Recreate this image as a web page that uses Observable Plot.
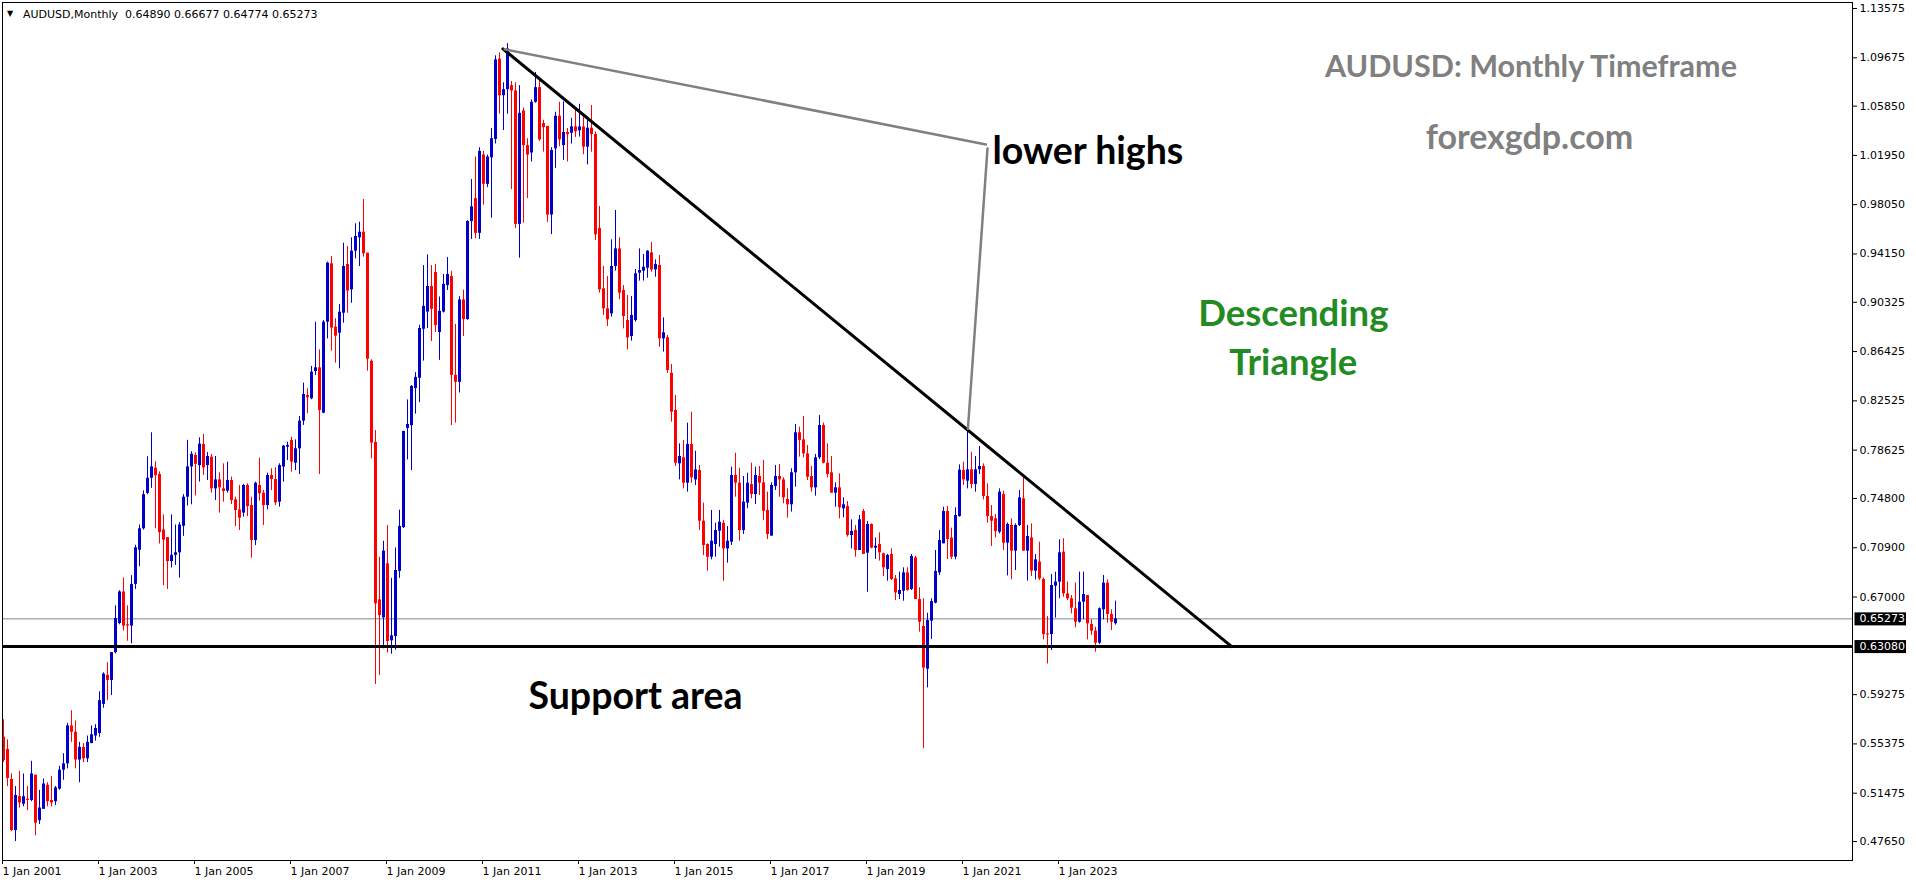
<!DOCTYPE html>
<html>
<head>
<meta charset="utf-8">
<script src="https://cdn.jsdelivr.net/npm/d3@7"></script>
<script src="https://cdn.jsdelivr.net/npm/@observablehq/plot@0.6"></script>
<style>
html,body{margin:0;padding:0;background:#fff;overflow:hidden}
#chart svg{display:block}
</style>
</head>
<body>
<div id="chart"></div>
<script>
// ---------- data (monthly AUDUSD candles, first candle = Jan 2001) ----------
const startYear = 2001;
const opens = [
 .5591,.5494,.5256,.4852,.5120,.5060,.5100,.5090,.5290,.4930,.5020,.5210,
 .5090,.5080,.5180,.5330,.5380,.5680,.5630,.5410,.5510,.5420,.5540,.5600,
 .5620,.5850,.6080,.6040,.6260,.6490,.6740,.6480,.6470,.6800,.7070,.7240,
 .7520,.7640,.7720,.7670,.7230,.7170,.6980,.7030,.7050,.7260,.7490,.7730,
 .7820,.7740,.7907,.7741,.7807,.7556,.7627,.7556,.7538,.7622,.7469,.7390,
 .7364,.7583,.7424,.7147,.7583,.7522,.7424,.7662,.7630,.7451,.7728,.7886,
 .7939,.7759,.7873,.8092,.8295,.8269,.8485,.8514,.8155,.8875,.9337,.8836,
 .8788,.8946,.9332,.9131,.9437,.9543,.9587,.9421,.8566,.7923,.6678,.6535,
 .6963,.6354,.6387,.6903,.7249,.8034,.8056,.8350,.8431,.8819,.8955,.9158,
 .9268,.8793,.8955,.9165,.9236,.8454,.8399,.9051,.8896,.9672,.9853,.9578,
 1.0198,.9966,1.0176,1.0321,1.0957,1.0667,1.0715,1.0747,1.0705,.9649,1.0547,1.0272,
 1.0214,1.0615,1.0731,1.0447,1.0424,.9723,1.0247,1.0505,1.0273,1.0376,1.0370,1.0421,
 1.0390,1.0420,1.0260,1.0410,1.0360,.9616,.9139,.8981,.8941,.9316,.9455,.9126,
 .8888,.8762,.8888,.9263,.9279,.9302,.9424,.9289,.9324,.8743,.8751,.8471,
 .8176,.7754,.7802,.7601,.7907,.7627,.7701,.7300,.7116,.7015,.7116,.7221,
 .7284,.7081,.7134,.7662,.7601,.7226,.7443,.7590,.7511,.7654,.7604,.7385,
 .7182,.7575,.7654,.7627,.7472,.7430,.7683,.8000,.7944,.7833,.7654,.7564,
 .7802,.8057,.7759,.7683,.7522,.7564,.7398,.7416,.7187,.7227,.7068,.7377,
 .7047,.7274,.7087,.7116,.7042,.6918,.7037,.6844,.6720,.6746,.6891,.6760,
 .7010,.6680,.6467,.6129,.6509,.6651,.6891,.7121,.7377,.7166,.7015,.7337,
 .7701,.7617,.7707,.7591,.7707,.7733,.7496,.7337,.7319,.7213,.7511,.7126,
 .7266,.7063,.7266,.7477,.7063,.7168,.6905,.6976,.6839,.6408,.6403,.6786,
 .6818,.7055,.6725,.6686,.6607,.6501,.6659,.6712,.6483,.6430,.6335,.6599,
 .6810,.6562,.64890
];
const highs = [
 .5728,.5570,.5300,.5200,.5320,.5300,.5200,.5400,.5290,.5170,.5260,.5230,
 .5280,.5200,.5360,.5460,.5700,.5800,.5720,.5550,.5540,.5600,.5680,.5690,
 .5950,.6100,.6180,.6260,.6630,.6750,.6850,.6630,.6870,.7110,.7270,.7540,
 .7810,.8000,.7770,.7690,.7350,.7170,.7350,.7270,.7290,.7510,.7940,.7850,
 .7840,.7960,.7986,.7843,.7828,.7812,.7683,.7754,.7767,.7649,.7490,.7583,
 .7590,.7596,.7490,.7609,.7799,.7543,.7680,.7715,.7723,.7754,.7899,.7925,
 .7965,.7944,.8129,.8393,.8348,.8525,.8875,.8656,.8888,.9350,.9395,.8902,
 .9015,.9500,.9474,.9543,.9654,.9667,.9846,.9421,.8577,.8018,.7015,.7142,
 .7266,.6848,.7088,.7388,.8011,.8260,.8373,.8476,.8851,.9323,.9407,.9323,
 .9332,.9074,.9252,.9387,.9278,.8858,.9077,.9129,.9678,1.0004,1.0182,1.0256,
 1.0227,1.0198,1.0408,1.0983,1.1006,1.0770,1.1080,1.0780,1.0770,1.0747,1.0570,1.0327,
 1.0634,1.0851,1.0812,1.0473,1.0424,1.0256,1.0537,1.0615,1.0618,1.0408,1.0489,1.0563,
 1.0600,1.0500,1.0500,1.0590,1.0380,.9791,.9316,.9236,.9527,.9759,.9543,.9165,
 .9086,.9078,.9292,.9455,.9411,.9442,.9506,.9368,.9403,.8909,.8770,.8540,
 .8295,.7912,.7939,.8076,.8163,.7854,.7741,.7443,.7121,.7385,.7284,.7385,
 .7305,.7258,.7728,.7838,.7720,.7654,.7680,.7759,.7728,.7733,.7780,.7530,
 .7604,.7741,.7749,.7643,.7556,.7715,.8065,.8044,.8129,.7899,.7733,.7828,
 .8137,.8076,.7912,.7812,.7604,.7675,.7485,.7456,.7311,.7266,.7346,.7393,
 .7298,.7279,.7168,.7208,.7047,.7037,.7081,.6870,.6897,.6931,.6931,.7037,
 .7023,.6773,.6686,.6572,.6686,.7068,.7226,.7411,.7416,.7245,.7406,.7746,
 .7767,.8031,.7846,.7812,.7891,.7754,.7596,.7424,.7353,.7556,.7538,.7285,
 .7319,.7279,.7543,.7662,.7266,.7279,.7036,.7134,.6852,.6546,.6878,.6897,
 .7153,.7161,.6818,.6712,.6810,.6897,.6897,.6712,.6520,.6461,.6614,.6870,
 .6836,.6599,.66677
];
const lows = [
 .5390,.5200,.4844,.4765,.5030,.5040,.5010,.5080,.4810,.4900,.5020,.5040,
 .5040,.5050,.5170,.5250,.5340,.5550,.5340,.5230,.5390,.5390,.5540,.5560,
 .5590,.5820,.5880,.5920,.6250,.6480,.6430,.6350,.6330,.6760,.6940,.7230,
 .7510,.7560,.7240,.7120,.6790,.6760,.6930,.6950,.6850,.7180,.7420,.7430,
 .7500,.7610,.7662,.7622,.7522,.7464,.7364,.7451,.7522,.7432,.7258,.7226,
 .7332,.7337,.7007,.7108,.7459,.7266,.7390,.7543,.7424,.7411,.7609,.7780,
 .7688,.7701,.7670,.8058,.8150,.8261,.8453,.7670,.8150,.8743,.8646,.8551,
 .8506,.8867,.8946,.9025,.9376,.9316,.9390,.8487,.7794,.6008,.6079,.6290,
 .6257,.6248,.6280,.6848,.7243,.7785,.7701,.8147,.8238,.8567,.8825,.8722,
 .8793,.8573,.8948,.9126,.8057,.8076,.8315,.8761,.8890,.9530,.9536,.9530,
 .9801,.9940,.9698,1.0285,1.0521,1.0392,1.0521,.9924,.9617,.9381,.9659,.9853,
 1.0143,1.0608,1.0305,1.0221,.9665,.9568,1.0092,1.0263,1.0156,1.0143,1.0285,1.0337,
 1.0340,1.0200,1.0120,1.0220,.9521,.9105,.8928,.8841,.8915,.9279,.9052,.8822,
 .8656,.8725,.8875,.9200,.9200,.9223,.9271,.9231,.8677,.8638,.8471,.8084,
 .7733,.7627,.7556,.7530,.7601,.7582,.7226,.7028,.6904,.6994,.7015,.7094,
 .6825,.6968,.7108,.7490,.7142,.7195,.7398,.7477,.7432,.7503,.7306,.7155,
 .7182,.7543,.7490,.7438,.7324,.7372,.7569,.7807,.7801,.7622,.7530,.7498,
 .7788,.7754,.7643,.7522,.7411,.7319,.7327,.7174,.7081,.7015,.7068,.7037,
 .6738,.7081,.6997,.6984,.6862,.6825,.6831,.6672,.6680,.6667,.6746,.6752,
 .6680,.6422,.5499,.5981,.6364,.6646,.6870,.7121,.6997,.6997,.6994,.7332,
 .7583,.7556,.7556,.7530,.7670,.7469,.7285,.7100,.7168,.7200,.7068,.6867,
 .6836,.6910,.7258,.7063,.6826,.6862,.6836,.6831,.6361,.6171,.6277,.6533,
 .6686,.6699,.6672,.6567,.6456,.6493,.6520,.6361,.6396,.6264,.6324,.6520,
 .6493,.6435,.64774
];
const closes = [
 .5406,.5264,.4852,.5129,.5070,.5120,.5090,.5300,.4910,.5030,.5220,.5080,
 .5070,.5190,.5330,.5380,.5680,.5630,.5410,.5510,.5420,.5550,.5610,.5660,
 .5880,.6090,.6040,.6260,.6530,.6740,.6470,.6470,.6800,.7090,.7240,.7510,
 .7640,.7730,.7660,.7210,.7150,.6980,.7030,.7050,.7270,.7490,.7730,.7830,
 .7750,.7910,.7722,.7812,.7556,.7627,.7564,.7535,.7622,.7464,.7385,.7324,
 .7583,.7416,.7147,.7601,.7517,.7424,.7662,.7630,.7445,.7741,.7894,.7899,
 .7767,.7873,.8092,.8303,.8277,.8480,.8514,.8176,.8875,.9342,.8828,.8764,
 .8954,.9316,.9121,.9437,.9553,.9587,.9416,.8582,.7918,.6646,.6553,.7063,
 .6348,.6393,.6910,.7259,.8011,.8066,.8367,.8438,.8825,.9000,.9158,.8977,
 .8848,.8961,.9174,.9252,.8454,.8399,.9051,.8896,.9672,.9788,.9578,1.0227,
 .9966,1.0182,1.0327,1.0951,1.0667,1.0715,1.1038,1.0705,.9649,1.0528,1.0272,1.0198,
 1.0615,1.0731,1.0318,1.0415,.9723,1.0234,1.0505,1.0318,1.0376,1.0360,1.0421,1.0382,
 1.0420,1.0260,1.0410,1.0360,.9566,.9131,.8981,.8894,.9316,.9455,.9105,.8920,
 .8751,.8928,.9258,.9284,.9310,.9437,.9289,.9332,.8743,.8791,.8493,.8163,
 .7759,.7812,.7601,.7907,.7643,.7706,.7300,.7108,.7015,.7142,.7226,.7292,
 .7081,.7142,.7662,.7601,.7226,.7451,.7601,.7511,.7662,.7601,.7379,.7195,
 .7583,.7654,.7627,.7485,.7430,.7683,.8000,.7939,.7833,.7648,.7564,.7802,
 .8057,.7759,.7670,.7522,.7564,.7406,.7430,.7187,.7219,.7068,.7311,.7037,
 .7274,.7087,.7102,.7050,.6931,.7029,.6839,.6733,.6752,.6891,.6752,.7021,
 .6680,.6501,.6137,.6514,.6664,.6902,.7147,.7377,.7155,.7015,.7345,.7704,
 .7627,.7707,.7591,.7707,.7733,.7496,.7337,.7300,.7218,.7530,.7126,.7274,
 .7063,.7266,.7485,.7063,.7179,.6905,.6994,.6844,.6403,.6400,.6791,.6818,
 .7050,.6725,.6686,.6612,.6501,.6659,.6720,.6488,.6430,.6335,.6607,.6810,
 .6562,.6501,.65273
];

// axis ticks
const yTicks = [1.13575,1.09675,1.05850,1.01950,0.98050,0.94150,0.90325,0.86425,0.82525,
                0.78625,0.74800,0.70900,0.67000,0.59275,0.55375,0.51475,0.47650];
const xTickYears = [2001,2003,2005,2007,2009,2011,2013,2015,2017,2019,2021,2023];

// header / levels
const headerSymbol = "AUDUSD,Monthly";
const headerOHLC = [0.64890, 0.66677, 0.64774, 0.65273];
const currentPrice = 0.65273;
const supportLevel = 0.63080;
const priceTags = [currentPrice, supportLevel];

// drawn objects (month index from Jan 2001, price)
const trendLine = [{m: 124.85, p: 1.1038}, {m: 307.05, p: 0.6308}];
const lowerHighLine1 = [{m: 125.3, p: 1.1035}, {m: 245.6, p: 1.0282}];
const lowerHighLine2 = [{m: 246.0, p: 1.0250}, {m: 241.1, p: 0.8030}];

const titleTexts = [{label: "AUDUSD: Monthly Timeframe", m: 381.85, p: 1.0893}];
const siteTexts = [{label: "forexgdp.com", m: 381.5, p: 1.0335}];
const greenTexts = [
  {label: "Descending", m: 322.45, p: 0.8935},
  {label: "Triangle", m: 322.45, p: 0.8552}
];
const blackTexts = [
  {label: "lower highs", m: 271.1, p: 1.0218},
  {label: "Support area", m: 158.0, p: 0.5905}
];

// ---------- build ----------
const candles = opens.map((o, i) => ({m: i, o, h: highs[i], l: lows[i], c: closes[i]}));
const bull = "#0000CD", bear = "#FF0000";
const col = d => (d.c >= d.o ? bull : bear);
const monthOf = y => (y - startYear) * 12;
const annotFont = "Lato, 'Open Sans', sans-serif";
const fmt5 = d => d.toFixed(5);

const plot = Plot.plot({
  width: 1916,
  height: 884,
  marginLeft: 2,
  marginTop: 2,
  marginRight: 64,
  marginBottom: 24,
  style: {fontFamily: "'DejaVu Sans', sans-serif", fontSize: "11px", color: "black", background: "white", overflow: "visible"},
  x: {type: "linear", domain: [-0.25, 462.25]},
  y: {type: "linear", domain: [0.46149, 1.14050]},
  color: {type: "identity"},
  marks: [
    Plot.ruleY([currentPrice], {stroke: "#778899", strokeWidth: 1}),
    Plot.ruleX(candles, {x: "m", y1: "l", y2: "h", stroke: col, strokeWidth: 1}),
    Plot.ruleX(candles, {x: "m", y1: "o", y2: "c", stroke: col, strokeWidth: 3}),
    Plot.ruleY([supportLevel], {stroke: "black", strokeWidth: 3}),
    Plot.line(trendLine, {x: "m", y: "p", stroke: "black", strokeWidth: 3}),
    Plot.line(lowerHighLine1, {x: "m", y: "p", stroke: "#808080", strokeWidth: 2.5}),
    Plot.line(lowerHighLine2, {x: "m", y: "p", stroke: "#808080", strokeWidth: 2.5}),
    Plot.frame({stroke: "black"}),
    Plot.axisY({anchor: "right", ticks: yTicks, tickFormat: fmt5, tickSize: 4, tickPadding: 3, label: null}),
    Plot.axisX({anchor: "bottom", ticks: xTickYears.map(monthOf), tickFormat: m => "1 Jan " + (startYear + m / 12),
                tickSize: 4, tickPadding: 3, textAnchor: "start", dx: -1, label: null}),
    Plot.text(priceTags, {y: d => d, text: fmt5, frameAnchor: "right", dx: 7,
                textAnchor: "start", fill: "white", fontSize: 11}),
    Plot.text(["\u25BC"], {frameAnchor: "top-left", dx: 7.5, dy: 11, fontSize: 8, textAnchor: "middle", lineAnchor: "middle"}),
    Plot.text([headerSymbol + "\u00a0\u00a0" + headerOHLC.map(fmt5).join(" ")],
              {frameAnchor: "top-left", dx: 20.5, dy: 12, fontSize: 11, textAnchor: "start", lineAnchor: "middle"}),
    Plot.text(titleTexts, {x: "m", y: "p", text: "label", fill: "#808080", fontSize: 30.5, fontWeight: "bold", fontFamily: annotFont}),
    Plot.text(siteTexts, {x: "m", y: "p", text: "label", fill: "#808080", fontSize: 34, fontWeight: "bold", fontFamily: annotFont}),
    Plot.text(greenTexts, {x: "m", y: "p", text: "label", fill: "#228B22", fontSize: 36.5, fontWeight: "bold", fontFamily: annotFont}),
    Plot.text(blackTexts, {x: "m", y: "p", text: "label", fill: "black", fontSize: 37.5, fontWeight: "bold", fontFamily: annotFont})
  ]
});

document.getElementById("chart").appendChild(plot);

// black boxes behind the price tags on the right axis
const tagLabels = priceTags.map(fmt5);
plot.querySelectorAll("text").forEach(t => {
  if (!tagLabels.includes(t.textContent.trim())) return;
  const b = t.getBBox();
  const r = document.createElementNS("http://www.w3.org/2000/svg", "rect");
  r.setAttribute("x", b.x - 5);
  r.setAttribute("y", b.y);
  r.setAttribute("width", b.width + 6);
  r.setAttribute("height", b.height);
  r.setAttribute("fill", "black");
  r.setAttribute("transform", t.getAttribute("transform") || "");
  t.parentNode.insertBefore(r, t);
});
</script>
</body>
</html>
